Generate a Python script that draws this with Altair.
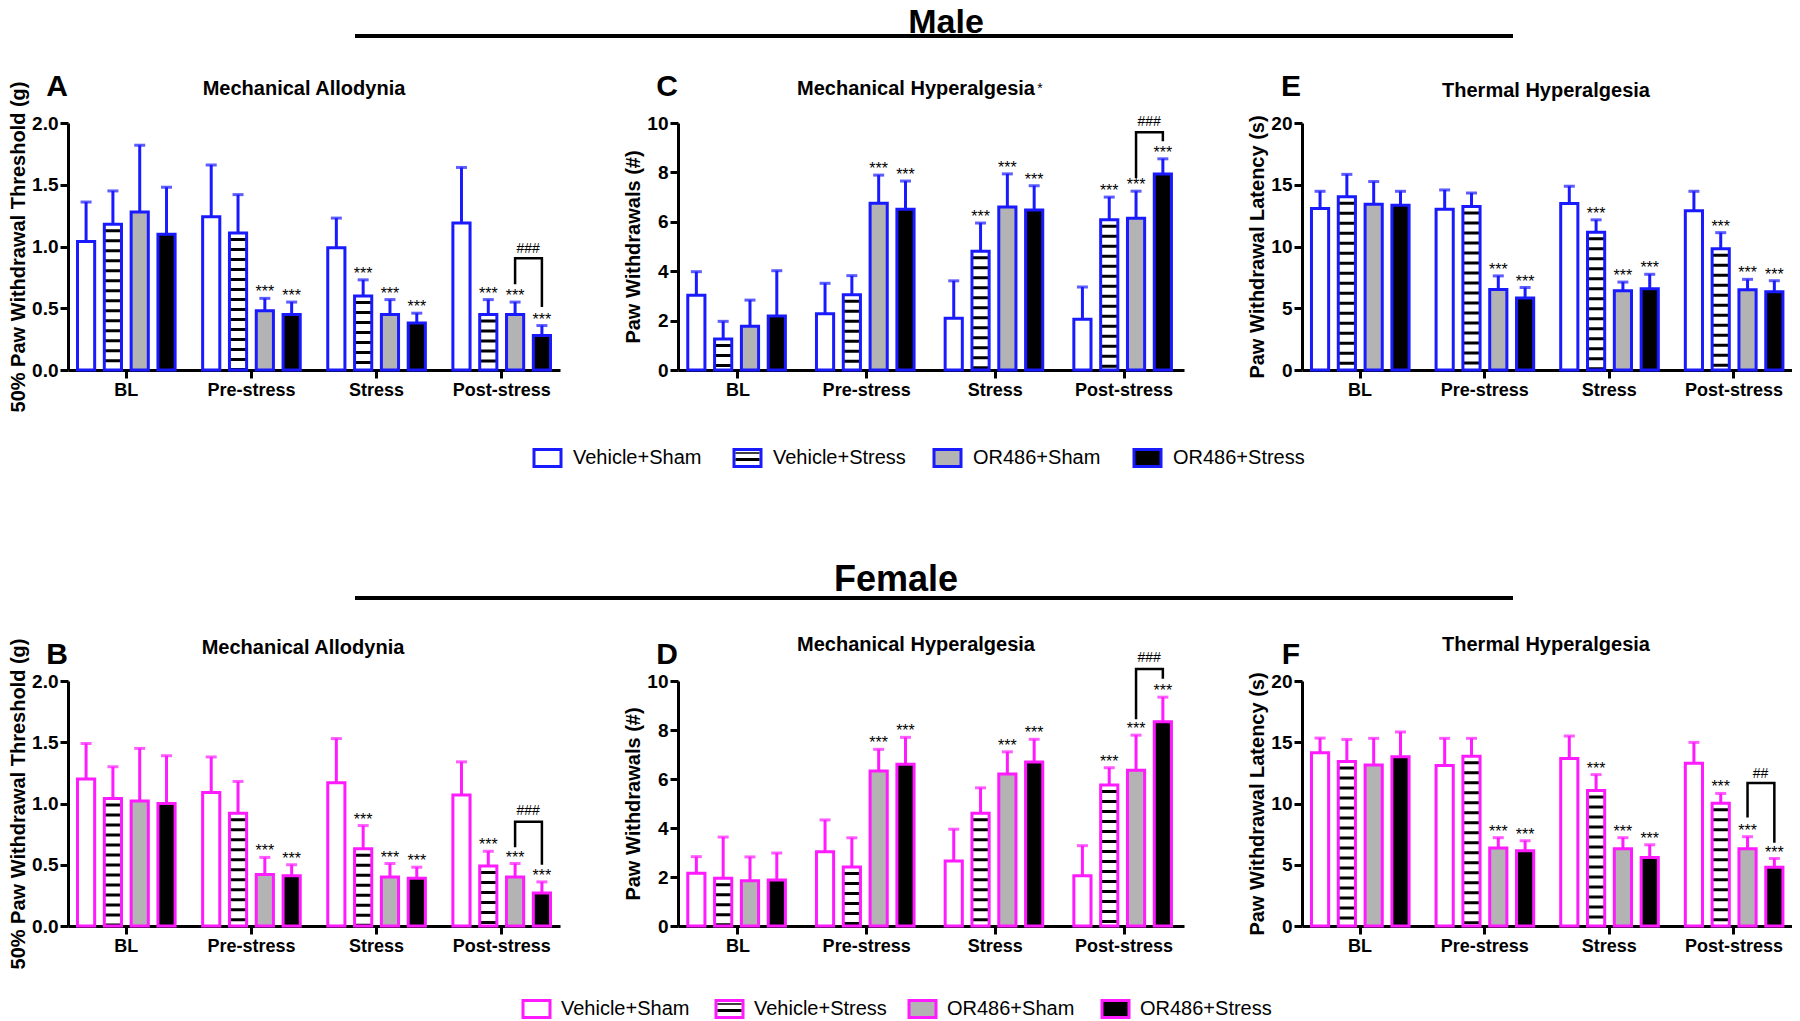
import altair as alt
import pandas as pd

# ---------------- data ----------------
phases = ["BL", "Pre-stress", "Stress", "Post-stress"]
groups = ["Vehicle+Sham", "Vehicle+Stress", "OR486+Sham", "OR486+Stress"]

# Male - Mechanical Allodynia (A)
A_mean = [[1.04, 1.24, 0.99, 1.19], [1.18, 1.11, 0.60, 0.45], [1.28, 0.48, 0.45, 0.45], [1.10, 0.45, 0.38, 0.28]]
A_err = [[1.36, 1.66, 1.23, 1.64], [1.45, 1.42, 0.73, 0.57], [1.82, 0.58, 0.57, 0.55], [1.48, 0.55, 0.46, 0.36]]
A_sig = [[0, 0, 0, 0], [0, 0, 1, 1], [0, 1, 1, 1], [0, 1, 1, 1]]

# Male - Mechanical Hyperalgesia (C)
C_mean = [[3.03, 2.28, 2.10, 2.05], [1.26, 3.05, 4.81, 6.08], [1.77, 6.75, 6.60, 6.14], [2.19, 6.51, 6.48, 7.94]]
C_err = [[3.98, 3.51, 3.61, 3.36], [1.97, 3.82, 5.95, 7.00], [2.83, 7.89, 7.94, 7.24], [4.02, 7.65, 7.46, 8.55]]
C_sig = [[0, 0, 0, 0], [0, 0, 1, 1], [0, 1, 1, 1], [0, 1, 1, 1]]

# Male - Thermal Hyperalgesia (E)
E_mean = [[13.07, 13.01, 13.48, 12.90], [14.03, 13.23, 11.15, 9.81], [13.42, 6.52, 6.41, 6.49], [13.34, 5.84, 6.58, 6.33]]
E_err = [[14.47, 14.58, 14.88, 14.47], [15.84, 14.33, 12.16, 11.12], [15.26, 7.62, 7.12, 7.34], [14.47, 6.68, 7.75, 7.23]]
E_sig = [[0, 0, 0, 0], [0, 0, 1, 1], [0, 1, 1, 1], [0, 1, 1, 1]]

# Female - Mechanical Allodynia (B)
B_mean = [[1.20, 1.09, 1.17, 1.07], [1.04, 0.92, 0.63, 0.49], [1.02, 0.42, 0.40, 0.40], [1.00, 0.41, 0.39, 0.27]]
B_err = [[1.49, 1.38, 1.53, 1.34], [1.30, 1.18, 0.82, 0.61], [1.45, 0.56, 0.51, 0.51], [1.39, 0.50, 0.48, 0.36]]
B_sig = [[0, 0, 0, 0], [0, 0, 1, 1], [0, 1, 1, 1], [0, 1, 1, 1]]

# Female - Mechanical Hyperalgesia (D)
D_mean = [[2.15, 3.03, 2.65, 2.05], [1.95, 2.41, 4.60, 5.76], [1.85, 6.33, 6.20, 6.36], [1.88, 6.60, 6.69, 8.34]]
D_err = [[2.83, 4.33, 3.95, 3.28], [3.63, 3.60, 5.64, 6.46], [2.82, 7.21, 7.11, 7.79], [2.98, 7.70, 7.62, 9.34]]
D_sig = [[0, 0, 0, 0], [0, 0, 0, 1], [0, 1, 1, 1], [0, 1, 1, 1]]

# Female - Thermal Hyperalgesia (F)
F_mean = [[14.14, 13.10, 13.67, 13.29], [13.42, 13.86, 11.07, 10.03], [13.15, 6.36, 6.30, 6.30], [13.81, 6.14, 5.59, 4.79]]
F_err = [[15.34, 15.32, 15.51, 14.99], [15.23, 15.32, 12.36, 10.82], [15.32, 7.21, 7.21, 7.29], [15.84, 6.96, 6.63, 5.51]]
F_sig = [[0, 0, 0, 0], [0, 0, 1, 1], [0, 1, 1, 1], [0, 1, 1, 1]]

# post-stress comparison brackets: label, top, left-leg bottom, right-leg bottom, label y
A_bracket = ["###", 0.905, 0.695, 0.51, 0.98]
C_bracket = ["###", 9.63, 7.77, 9.26, 10.03]
B_bracket = ["###", 0.852, 0.642, 0.50, 0.937]
D_bracket = ["###", 10.49, 8.44, 10.09, 10.95]
F_bracket = ["##", 11.67, 8.85, 6.79, 12.41]

# ---------------- style ----------------
FONT = "Liberation Sans"
BLUE = "#1a1aff"
MAGENTA = "#ff1aff"
FILLS = ["#ffffff", "#ffffff", "#b3b3b3", "#000000"]
W = [492, 506, 490]
H_TOP, H_BOT = 247, 245
one = pd.DataFrame({"k": [0]})


def make_df(mean, err, sig):
    rows = []
    for gi, g in enumerate(groups):
        for pi, p in enumerate(phases):
            rows.append(dict(phase=p, group=g, mean=mean[gi][pi], err=err[gi][pi], sig=bool(sig[gi][pi])))
    return pd.DataFrame(rows)


def txt(text, x, y, size, weight="normal", align="center", baseline="alphabetic"):
    return alt.Chart(one).mark_text(text=text, font=FONT, fontSize=size, fontWeight=weight, align=align,
                                    baseline=baseline, color="black").encode(x=alt.value(x), y=alt.value(y))


def legend_layers(x0, pitch, yc, color, tdx):
    out = []
    for i, g in enumerate(groups):
        bx = x0 + i * pitch
        out.append(alt.Chart(one).mark_rect(fill=FILLS[i], stroke=color, strokeWidth=3).encode(
            x=alt.value(bx), x2=alt.value(bx + 27), y=alt.value(yc - 8.5), y2=alt.value(yc + 8.5)))
        if i == 1:
            out.append(alt.Chart(one).mark_rule(color="black", strokeWidth=3).encode(
                x=alt.value(bx + 1.5), x2=alt.value(bx + 25.5), y=alt.value(yc + 1.5)))
            out.append(alt.Chart(one).mark_rule(color="black", strokeWidth=1.5).encode(
                x=alt.value(bx + 1.5), x2=alt.value(bx + 25.5), y=alt.value(yc - 5)))
        out.append(txt(g, bx + tdx, yc, 20, align="left", baseline="middle"))
    return out


def header_layers(label, size, tx, ty, ly):
    return [
        txt(label, tx, ty, size, weight="bold"),
        alt.Chart(one).mark_rule(color="black", strokeWidth=4).encode(
            x=alt.value(-323), x2=alt.value(835), y=alt.value(ly)),
    ]


def panel(mean, err, sig, ymax, yvals, fmt, ytitle, color, title, tpos, letter, ly, width, height,
          bracket=None, extra=()):
    df = make_df(mean, err, sig)
    xenc = alt.X("phase:N", sort=phases,
                 scale=alt.Scale(domain=phases, paddingInner=0.22, paddingOuter=0.076),
                 axis=alt.Axis(title=None, labelAngle=0, labelFont=FONT, labelFontSize=18,
                               labelFontWeight="bold", labelColor="black", labelPadding=3,
                               domainColor="black", domainWidth=3, tickColor="black", tickWidth=3,
                               tickSize=8, grid=False))
    xo = alt.XOffset("group:N", sort=groups,
                     scale=alt.Scale(domain=groups, paddingInner=0.36, paddingOuter=0))
    yscale = alt.Scale(domain=[0, ymax], nice=False, zero=True)
    yaxis = alt.Axis(values=yvals, format=fmt, title=ytitle, titleFont=FONT, titleFontSize=20,
                     titleFontWeight="bold", titleColor="black", titlePadding=3, labelFont=FONT,
                     labelFontSize=19, labelFontWeight="bold", labelColor="black", labelPadding=2,
                     domainColor="black", domainWidth=3, tickColor="black", tickWidth=3, tickSize=8,
                     grid=False)

    def Y(f):
        return alt.Y(f, scale=yscale, axis=yaxis)

    base = alt.Chart(df).encode(x=xenc, xOffset=xo)
    fillb = base.mark_bar(strokeWidth=0).encode(
        y=Y("mean:Q"),
        fill=alt.Fill("group:N", scale=alt.Scale(domain=groups, range=FILLS), legend=None))
    stripes = base.transform_filter(alt.datum.group == groups[1]).mark_rule(
        color="black", strokeWidth=16, strokeDash=[3, 7], strokeDashOffset=5, strokeCap="butt").encode(
        y=Y("mean:Q"), y2=alt.datum(0))
    outline = base.mark_bar(fillOpacity=0, stroke=color, strokeWidth=3).encode(y=Y("mean:Q"))
    ebar = base.mark_rule(color=color, strokeWidth=3).encode(y=Y("mean:Q"), y2="err:Q")
    cap = base.mark_tick(orient="horizontal", size=11, thickness=3, color=color).encode(y=Y("err:Q"))
    stars = base.transform_filter("datum.sig").mark_text(
        text="***", font=FONT, fontSize=16, color="black", baseline="alphabetic", dy=-1).encode(y=Y("err:Q"))
    layers = [fillb, stripes, outline, ebar, cap, stars]
    if bracket:
        lab, top, lb, rb, lyb = bracket
        bdf = pd.DataFrame({"phase": [phases[3]] * 4,
                            "group": [groups[2], groups[2], groups[3], groups[3]],
                            "y": [lb, top, top, rb], "o": [0, 1, 2, 3]})
        layers.append(alt.Chart(bdf).mark_line(color="black", strokeWidth=2.5).encode(
            x=xenc, xOffset=xo, y=Y("y:Q"), order="o:Q"))
        tdf = pd.DataFrame({"phase": [phases[3]], "group": [groups[2]], "y": [lyb]})
        layers.append(alt.Chart(tdf).mark_text(text=lab, font=FONT, fontSize=14, color="black",
                                               baseline="middle", dx=13).encode(
            x=xenc, xOffset=xo, y=Y("y:Q")))
    layers.append(txt(title, tpos[0], tpos[1], 20, weight="bold"))
    layers.append(txt(letter, -11, ly, 30, weight="bold"))
    layers.extend(extra)
    return alt.layer(*layers).properties(width=width, height=height)


male_extra = header_layers("Male", 34, 268, -90, -87) + legend_layers(-144, 200, 335, BLUE, 39) + [
    txt("*", 362, -30, 14)]
female_extra = header_layers("Female", 36, 218, -90, -83) + legend_layers(-155, 193, 328, MAGENTA, 38)

pA = panel(A_mean, A_err, A_sig, 2.0, [0, 0.5, 1.0, 1.5, 2.0], ".1f", "50% Paw Withdrawal Threshold (g)",
           BLUE, "Mechanical Allodynia", (236, -28), "A", -27, W[0], H_TOP, A_bracket)
pC = panel(C_mean, C_err, C_sig, 10, [0, 2, 4, 6, 8, 10], "d", "Paw Withdrawals (#)",
           BLUE, "Mechanical Hyperalgesia", (238, -28), "C", -27, W[1], H_TOP, C_bracket, male_extra)
pE = panel(E_mean, E_err, E_sig, 20, [0, 5, 10, 15, 20], "d", "Paw Withdrawal Latency (s)",
           BLUE, "Thermal Hyperalgesia", (244, -26), "E", -27, W[2], H_TOP)
pB = panel(B_mean, B_err, B_sig, 2.0, [0, 0.5, 1.0, 1.5, 2.0], ".1f", "50% Paw Withdrawal Threshold (g)",
           MAGENTA, "Mechanical Allodynia", (235, -27), "B", -17, W[0], H_BOT, B_bracket)
pD = panel(D_mean, D_err, D_sig, 10, [0, 2, 4, 6, 8, 10], "d", "Paw Withdrawals (#)",
           MAGENTA, "Mechanical Hyperalgesia", (238, -30), "D", -17, W[1], H_BOT, D_bracket, female_extra)
pF = panel(F_mean, F_err, F_sig, 20, [0, 5, 10, 15, 20], "d", "Paw Withdrawal Latency (s)",
           MAGENTA, "Thermal Hyperalgesia", (244, -30), "F", -17, W[2], H_BOT, F_bracket)


def build(top_pad):
    return alt.concat(pA, pC, pE, pB, pD, pF, columns=3,
                      spacing={"row": 311, "column": 118}, bounds="flush").properties(
        padding={"left": 0, "top": top_pad, "right": 0, "bottom": 0}
    ).configure(font=FONT, background="white").configure_view(stroke=None)


try:
    chart = build(-2)
    chart.save("out.html", embed_options={"renderer": "svg", "actions": False})
except Exception:
    chart = build(0)
    chart.save("out.html", embed_options={"renderer": "svg", "actions": False})
